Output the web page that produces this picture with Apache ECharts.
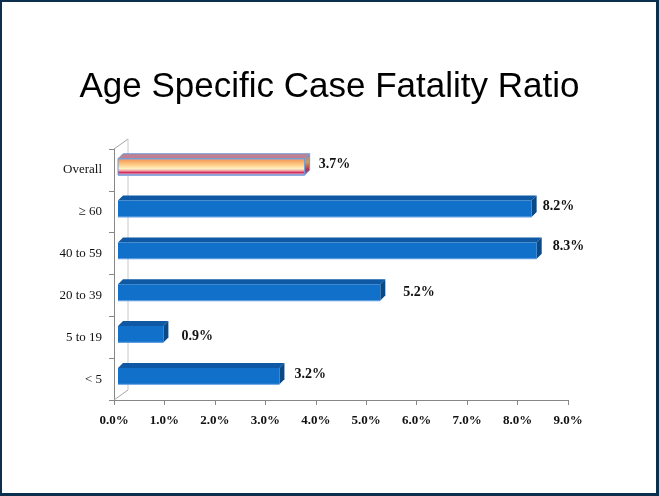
<!DOCTYPE html>
<html>
<head>
<meta charset="utf-8">
<script src="https://cdn.jsdelivr.net/npm/echarts@6/dist/echarts.min.js"></script>
<style>
  html, body { margin: 0; padding: 0; background: #fff; }
  #chart { position: absolute; left: 0; top: 0; width: 659px; height: 496px; }
  #frame {
    position: absolute; left: 0; top: 0; width: 659px; height: 496px;
    box-sizing: border-box; pointer-events: none;
    border-style: solid; border-color: #0b2f4c;
    border-width: 2px 3px 3px 2px;
  }
</style>
</head>
<body>
<div id="chart"></div>
<div id="frame"></div>
<script>
// data, top to bottom
var categories = ['Overall', '\u2265 60', '40 to 59', '20 to 39', '5 to 19', '< 5'];
var fatality = [3.7, 8.2, 8.3, 5.2, 0.9, 3.2];   // percent
var xTicks = [0, 9, 1];                           // min, max, step (%)

// hand placed label nudges, like the original slide
var labelGap = [9, 6, 11, 18, 13, 10];
var labelLift = [-3, -2, -4, 0, 2, -2];

var DEPTH = 5;       // bar depth in px
var SHIFT = 4;       // bar offset from the front wall
var WALL = [14, -10];

var chart = echarts.init(document.getElementById('chart'));

function renderBar(params, api) {
  var i = params.dataIndex;
  var val = api.value(0);
  var cat = api.value(1);
  var start = api.coord([0, cat]);
  var end = api.coord([val, cat]);
  var band = api.size([0, 1])[1];
  var h = band * 0.39;
  var x0 = start[0] + SHIFT, x1 = end[0] + SHIFT;
  var yc = end[1] - 3;
  var yT = yc - h / 2, yB = yc + h / 2;
  var d = DEPTH;
  var overall = i === 0;

  var frontFill = overall ? new echarts.graphic.LinearGradient(0, 0, 0, 1, [
    { offset: 0, color: '#a9a6dc' },
    { offset: 0.12, color: '#f3a25e' },
    { offset: 0.4, color: '#ffd08a' },
    { offset: 0.6, color: '#fff0c4' },
    { offset: 0.72, color: '#f2a4a0' },
    { offset: 0.82, color: '#cf2f66' },
    { offset: 0.92, color: '#e79ab4' },
    { offset: 1, color: '#b97a9a' }
  ]) : '#1170c9';
  var topFill = overall ? '#c0808f' : '#0e58a4';
  var sideFill = overall ? new echarts.graphic.LinearGradient(0, 0, 0, 1, [
    { offset: 0, color: '#8f7aa8' },
    { offset: 0.4, color: '#c9a060' },
    { offset: 0.75, color: '#a8305a' },
    { offset: 1, color: '#8a6a8a' }
  ]) : '#0b4886';
  var edge = overall ? '#6f9ad8' : '#1170c9';

  return {
    type: 'group',
    children: [
      { type: 'polygon', shape: { points: [[x0, yT], [x0 + d, yT - d], [x1 + d, yT - d], [x1, yT]] },
        style: { fill: topFill, stroke: edge, lineWidth: overall ? 1 : 0 } },
      { type: 'polygon', shape: { points: [[x1, yT], [x1 + d, yT - d], [x1 + d, yB - d], [x1, yB]] },
        style: { fill: sideFill, stroke: edge, lineWidth: overall ? 1 : 0 } },
      { type: 'rect', shape: { x: x0, y: yT, width: x1 - x0, height: h },
        style: { fill: frontFill, stroke: overall ? edge : null, lineWidth: 1 } },
      { type: 'line', shape: { x1: x0, y1: yB, x2: x1, y2: yB },
        style: { stroke: overall ? '#7fa6de' : '#5d9de0', lineWidth: 1.2 } },
      { type: 'text', x: x1 + d + labelGap[i], y: yc + labelLift[i],
        style: { text: val.toFixed(1) + '%', fill: '#111', fontFamily: 'Liberation Serif',
          fontWeight: 'bold', fontSize: 14, verticalAlign: 'middle', align: 'left' } }
    ]
  };
}

function renderWall(params, api) {
  var cs = params.coordSys;
  var l = cs.x, t = cs.y, b = cs.y + cs.height;
  var s = { stroke: '#a6a6a6', lineWidth: 1 };
  return {
    type: 'group',
    children: [
      { type: 'line', shape: { x1: l, y1: t, x2: l + WALL[0], y2: t + WALL[1] }, style: s },
      { type: 'line', shape: { x1: l + WALL[0], y1: t + WALL[1], x2: l + WALL[0], y2: b + WALL[1] },
        style: { stroke: '#c8c8c8', lineWidth: 1 } },
      { type: 'line', shape: { x1: l, y1: b, x2: l + WALL[0], y2: b + WALL[1] }, style: s }
    ]
  };
}

var option = {
  backgroundColor: '#fff',
  animation: false,
  title: {
    text: 'Age Specific Case Fatality Ratio',
    left: 'center',
    top: 65,
    textStyle: { fontFamily: 'Liberation Sans', fontSize: 35, fontWeight: 'normal', color: '#000' }
  },
  grid: { left: 114, right: 91, top: 149, bottom: 96 },
  xAxis: {
    type: 'value',
    min: xTicks[0], max: xTicks[1], interval: xTicks[2],
    splitLine: { show: false },
    axisLine: { show: true, lineStyle: { color: '#878787' } },
    axisTick: { show: true, length: 5, lineStyle: { color: '#878787' } },
    axisLabel: {
      margin: 14, color: '#111', fontFamily: 'Liberation Serif', fontWeight: 'bold', fontSize: 13,
      formatter: function (v) { return v.toFixed(1) + '%'; }
    }
  },
  yAxis: {
    type: 'category',
    inverse: true,
    data: categories,
    axisLine: { show: true, lineStyle: { color: '#878787' } },
    axisTick: { show: true, length: 5, lineStyle: { color: '#878787' } },
    axisLabel: { margin: 12, color: '#111', fontFamily: 'Liberation Serif', fontSize: 13 }
  },
  series: [
    {
      type: 'custom',
      renderItem: renderWall,
      data: [[0, 0]],
      encode: { x: 0, y: 1 },
      z: 1,
      silent: true
    },
    {
      type: 'custom',
      renderItem: renderBar,
      data: fatality.map(function (v, i) { return [v, i]; }),
      encode: { x: 0, y: 1 },
      z: 3
    }
  ]
};

chart.setOption(option);
</script>
</body>
</html>
